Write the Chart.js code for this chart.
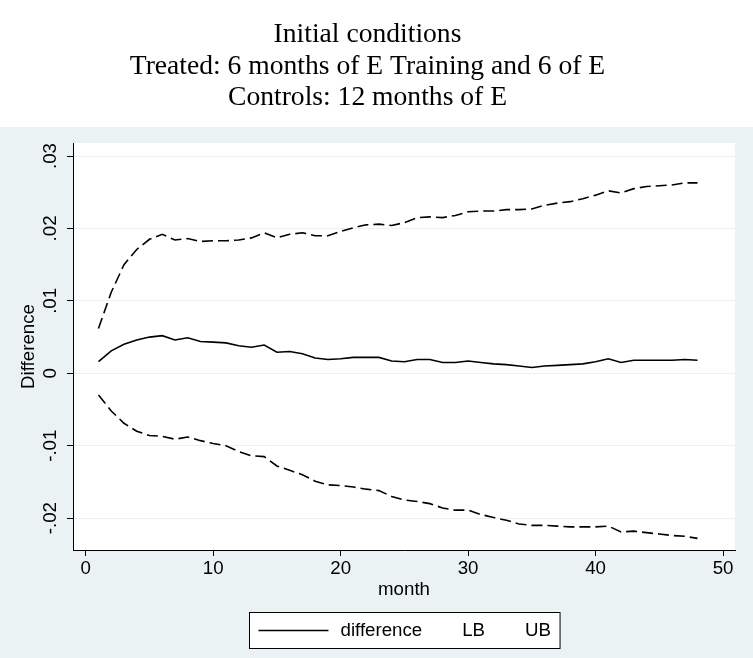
<!DOCTYPE html>
<html>
<head>
<meta charset="utf-8">
<title>Initial conditions</title>
<script src="https://cdn.jsdelivr.net/npm/chart.js@4.4.1/dist/chart.umd.min.js"></script>
<style>
  html, body { margin: 0; padding: 0; background: #fff; }
  canvas { display: block; }
</style>
</head>
<body>
<canvas id="diff-chart" width="753" height="658"></canvas>
<script>
const titleLines = [
  "Initial conditions",
  "Treated: 6 months of E Training and 6 of E",
  "Controls: 12 months of E"
];

const months = [1, 2, 3, 4, 5, 6, 7, 8, 9, 10, 11, 12, 13, 14, 15, 16,
  17, 18, 19, 20, 21, 22, 23, 24, 25, 26, 27, 28, 29, 30, 31, 32,
  33, 34, 35, 36, 37, 38, 39, 40, 41, 42, 43, 44, 45, 46, 47, 48];

const difference = [0.0016, 0.0031, 0.0040, 0.0046, 0.0050, 0.0052, 0.0046, 0.0049,
  0.0044, 0.0043, 0.0042, 0.0038, 0.0036, 0.0039, 0.0029, 0.0030,
  0.0027, 0.0021, 0.0019, 0.0020, 0.0022, 0.0022, 0.0022, 0.0017,
  0.0016, 0.0019, 0.0019, 0.0015, 0.0015, 0.0017, 0.0015, 0.0013,
  0.0012, 0.0010, 0.0008, 0.0010, 0.0011, 0.0012, 0.0013, 0.0016,
  0.0020, 0.0015, 0.0018, 0.0018, 0.0018, 0.0018, 0.0019, 0.0018];

const lowerBound = [-0.0030, -0.0052, -0.0069, -0.0080, -0.0086, -0.0087, -0.0091, -0.0088,
  -0.0093, -0.0097, -0.0100, -0.0108, -0.0114, -0.0115, -0.0128, -0.0134,
  -0.0140, -0.0149, -0.0154, -0.0155, -0.0157, -0.0160, -0.0162, -0.0170,
  -0.0175, -0.0177, -0.0180, -0.0186, -0.0189, -0.0189, -0.0195, -0.0199,
  -0.0203, -0.0208, -0.0210, -0.0210, -0.0211, -0.0212, -0.0212, -0.0212,
  -0.0211, -0.0219, -0.0218, -0.0220, -0.0222, -0.0224, -0.0225, -0.0228];

const upperBound = [0.0062, 0.0112, 0.0150, 0.0171, 0.0185, 0.0192, 0.0184, 0.0186,
  0.0182, 0.0183, 0.0183, 0.0184, 0.0187, 0.0194, 0.0187, 0.0192,
  0.0194, 0.0190, 0.0190, 0.0196, 0.0201, 0.0205, 0.0206, 0.0204,
  0.0208, 0.0215, 0.0216, 0.0215, 0.0218, 0.0223, 0.0224, 0.0224,
  0.0226, 0.0226, 0.0227, 0.0232, 0.0235, 0.0237, 0.0241, 0.0246,
  0.0252, 0.0249, 0.0255, 0.0258, 0.0259, 0.0260, 0.0263, 0.0263];

const seriesNames = ["difference", "LB", "UB"];

const bluishGray = '#EAF2F3';
const sansFont = 'Liberation Sans';
const textSize = 18.7;

Chart.defaults.font.family = sansFont;
Chart.defaults.font.size = textSize;
Chart.defaults.color = '#000';

const toPoints = (values) => months.map((m, i) => ({ x: m, y: values[i] }));

// stata style tick labels: .03, -.01, 0
const stataNumber = (v) => {
  if (Math.abs(v) < 1e-9) return '0';
  return v.toFixed(2).replace('0.', '.');
};

// light graph region, white plot region
const backdrop = {
  id: 'backdrop',
  beforeDraw(chart) {
    const { ctx, width, height, chartArea } = chart;
    ctx.save();
    ctx.fillStyle = '#fff';
    ctx.fillRect(0, 0, width, height);
    ctx.fillStyle = bluishGray;
    ctx.fillRect(0, chartArea.top - 16, width, height - chartArea.top + 16);
    ctx.fillStyle = '#fff';
    ctx.fillRect(chartArea.left, chartArea.top,
      chartArea.right - chartArea.left, chartArea.bottom - chartArea.top);
    ctx.restore();
  }
};

// boxed legend under the x axis title, only the solid series shows a sample
const keyBox = {
  id: 'keyBox',
  afterDraw(chart) {
    const { ctx, chartArea } = chart;
    const sets = chart.data.datasets;
    const pad = 9, sampleLen = 70, sampleGap = 12, itemGap = 40, boxH = 36;
    ctx.save();
    ctx.font = textSize + 'px "' + sansFont + '"';
    let w = pad * 2;
    sets.forEach((ds, i) => {
      if (!ds.borderDash) w += sampleLen + sampleGap;
      w += ctx.measureText(ds.label).width;
      if (i > 0) w += itemGap;
    });
    const left = Math.round((chartArea.left + chartArea.right) / 2 - w / 2) + 0.5;
    const top = Math.round(chart.scales.x.bottom + 2) + 0.5;
    const mid = top + boxH / 2;

    ctx.fillStyle = '#fff';
    ctx.fillRect(left, top, w, boxH);
    ctx.strokeStyle = '#000';
    ctx.lineWidth = 1;
    ctx.strokeRect(left, top, w, boxH);

    let x = left + pad;
    ctx.textBaseline = 'middle';
    ctx.textAlign = 'left';
    ctx.fillStyle = '#000';
    sets.forEach((ds, i) => {
      if (i > 0) x += itemGap;
      if (!ds.borderDash) {
        ctx.beginPath();
        ctx.lineWidth = ds.borderWidth;
        ctx.moveTo(x, mid);
        ctx.lineTo(x + sampleLen, mid);
        ctx.stroke();
        x += sampleLen + sampleGap;
      }
      ctx.fillText(ds.label, x, mid);
      x += ctx.measureText(ds.label).width;
    });
    ctx.restore();
  }
};

const lineStyle = {
  borderColor: '#000',
  borderWidth: 1.6,
  pointRadius: 0,
  tension: 0,
  fill: false
};

const diffCanvas = document.getElementById('diff-chart');

let diffChart = new Chart(diffCanvas, {
  type: 'line',
  data: {
    datasets: [
      { ...lineStyle, label: seriesNames[0], data: toPoints(difference) },
      { ...lineStyle, label: seriesNames[1], data: toPoints(lowerBound), borderDash: [11, 5] },
      { ...lineStyle, label: seriesNames[2], data: toPoints(upperBound), borderDash: [11, 5] }
    ]
  },
  options: {
    responsive: false,
    animation: false,
    events: [],
    layout: {
      padding: { left: 0, right: 18, top: 0, bottom: 48 }
    },
    scales: {
      x: {
        type: 'linear',
        min: -1,
        max: 50.94,
        afterFit: (scale) => { scale.height = 60; },
        border: { display: true, color: '#000', width: 1 },
        grid: { drawOnChartArea: false, tickColor: '#000', tickLength: 6, lineWidth: 1 },
        ticks: { stepSize: 10, includeBounds: false, autoSkip: false, padding: 2, maxRotation: 0 },
        title: {
          display: true,
          text: 'month',
          padding: { top: 0, bottom: 8.8 }
        }
      },
      y: {
        type: 'linear',
        min: -0.0244,
        max: 0.0318,
        afterFit: (scale) => { scale.width = 73; },
        border: { display: true, color: '#000', width: 1 },
        grid: { color: bluishGray, tickColor: '#000', tickLength: 6, lineWidth: 1 },
        ticks: {
          stepSize: 0.01,
          includeBounds: false,
          autoSkip: false,
          minRotation: 90,
          maxRotation: 90,
          crossAlign: 'center',
          padding: 0,
          callback: (v) => stataNumber(v)
        },
        title: {
          display: true,
          text: 'Difference',
          padding: { top: 17.8, bottom: 0 }
        }
      }
    },
    plugins: {
      legend: { display: false },
      tooltip: { enabled: false },
      title: {
        display: true,
        text: titleLines,
        color: '#000',
        font: { family: 'Liberation Serif', size: 27.6, weight: 'normal', lineHeight: 31.5 / 27.6 },
        padding: { top: 19.25, bottom: 29.25 }
      }
    }
  },
  plugins: [backdrop, keyBox]
});
</script>
</body>
</html>
